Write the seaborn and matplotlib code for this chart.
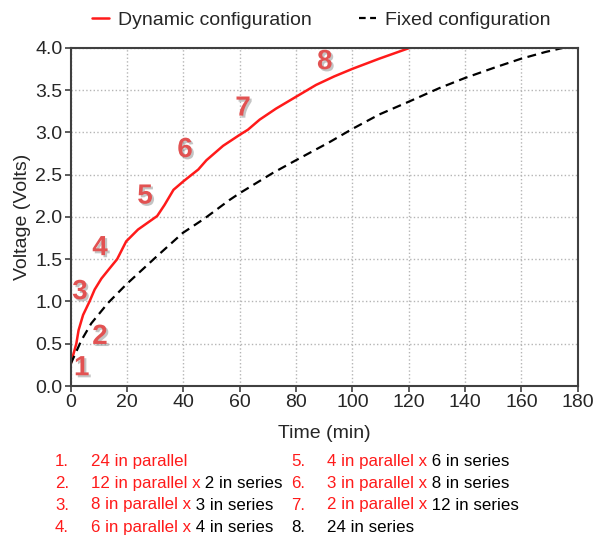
import numpy as np
import pandas as pd
import matplotlib
matplotlib.use("Agg")
import matplotlib.pyplot as plt
import matplotlib.patheffects as pe
from matplotlib.lines import Line2D
import seaborn as sns

# === Data ===
dyn_time = [0, 2.0, 2.8, 4.4, 6.7, 8.5, 10.9, 13.8, 16.5, 19.7, 23.9, 30.7,
            33.3, 36.5, 40.0, 45.3, 48.2, 54.1, 60.0, 62.9, 67.1, 72.9, 80.0,
            87.1, 93.5, 100.0, 109.5, 120.5]
dyn_volt = [0.26, 0.50, 0.66, 0.84, 1.00, 1.14, 1.27, 1.39, 1.50, 1.71, 1.85, 2.01,
            2.14, 2.32, 2.42, 2.56, 2.67, 2.84, 2.97, 3.03, 3.15, 3.28, 3.42,
            3.56, 3.66, 3.75, 3.87, 4.00]

fix_time = [0, 3.8, 7.3, 13.2, 19.7, 29.8, 39.8, 47.5, 56.4, 60.0, 71.8, 80.0,
            91.7, 100.0, 109.5, 119.9, 130.7, 139.8, 150.9, 159.9, 168.6, 175.0]
fix_volt = [0.26, 0.54, 0.74, 0.98, 1.20, 1.51, 1.81, 1.98, 2.20, 2.28, 2.52, 2.67,
            2.88, 3.04, 3.21, 3.36, 3.52, 3.64, 3.77, 3.87, 3.95, 4.00]

step_labels = ["1", "2", "3", "4", "5", "6", "7", "8"]
step_x = [3.9, 10.4, 3.3, 10.4, 26.4, 40.6, 61.2, 90.2]
step_y = [0.21, 0.58, 1.11, 1.63, 2.24, 2.79, 3.28, 3.83]

parallel_part = ["24 in parallel", "12 in parallel x", "8 in parallel x", "6 in parallel x",
                 "4 in parallel x", "3 in parallel x", "2 in parallel x", ""]
series_part = ["", "2 in series", "3 in series", "4 in series",
               "6 in series", "8 in series", "12 in series", "24 in series"]

dyn = pd.DataFrame({"time": dyn_time, "volt": dyn_volt})
fix = pd.DataFrame({"time": fix_time, "volt": fix_volt})

sns.set_style("ticks")
plt.rcParams["font.family"] = ["Liberation Sans", "DejaVu Sans"]

RED = "#ff1a1a"
fig = plt.figure(figsize=(5.97, 5.35), dpi=100)
ax = fig.add_axes([0.1184, 0.2785, 0.8493, 0.6323])

sns.lineplot(data=dyn, x="time", y="volt", ax=ax, color=RED, lw=1.8,
             estimator=None, sort=False)
sns.lineplot(data=fix, x="time", y="volt", ax=ax, color="black", lw=1.6,
             estimator=None, sort=False, linestyle=(0, (4, 2.5)))

ax.set_xlim(0, 180)
ax.set_ylim(0, 4)
ax.set_xticks(np.arange(0, 181, 20))
ax.set_yticks(np.arange(0, 4.01, 0.5))
ax.set_yticklabels([f"{v:.1f}" for v in np.arange(0, 4.01, 0.5)])
ax.grid(True, color="#b5b5b5", linestyle=":", linewidth=1.0)
for s in ax.spines.values():
    s.set_color("#404040")
    s.set_linewidth(1.5)
    s.set_visible(True)
ax.tick_params(labelsize=14, length=4, width=1.2, color="#404040", pad=2)
ax.set_xlabel("Time (min)", fontsize=14, labelpad=10)
ax.set_ylabel("Voltage (Volts)", fontsize=14, labelpad=3)

# step numbers
for lab, x, y in zip(step_labels, step_x, step_y):
    ax.text(x, y, lab, fontsize=20, fontweight="bold", color="#e25252",
            ha="center", va="center",
            path_effects=[pe.withSimplePatchShadow(offset=(1.5, -1.5),
                                                   shadow_rgbFace="#8a8a8a", alpha=0.5)])

# legend on top
handles = [Line2D([], [], color=RED, lw=1.8),
           Line2D([], [], color="black", lw=1.6, linestyle=(0, (3, 2)))]
fig.legend(handles, ["Dynamic configuration", "Fixed configuration"],
           loc="center", bbox_to_anchor=(0.538, 0.963), ncol=2, frameon=False,
           fontsize=14, handlelength=0.9, handletextpad=0.45, columnspacing=2.4)

# configuration list below the chart
LIST_FS = 12.2
rows_y = [461.7, 483.3, 505.0, 527.3]
for i in range(8):
    col = i // 4
    py = 1 - rows_y[i % 4] / 535
    num_x = (55 if col == 0 else 291) / 597
    txt_x = (90.7 if col == 0 else 326.7) / 597
    ncolor = RED if i < 7 else "black"
    fig.text(num_x, py, f"{i + 1}.", color=ncolor, fontsize=LIST_FS, va="center")
    if parallel_part[i]:
        t = fig.text(txt_x, py, parallel_part[i], color=RED, fontsize=LIST_FS, va="center")
        if series_part[i]:
            ax.annotate(" " + series_part[i], xy=(1, 0), xycoords=t, va="bottom",
                        ha="left", color="black", fontsize=LIST_FS, annotation_clip=False)
    else:
        fig.text(txt_x, py, series_part[i], color="black", fontsize=LIST_FS, va="center")

fig.savefig("out.png", dpi=100)
